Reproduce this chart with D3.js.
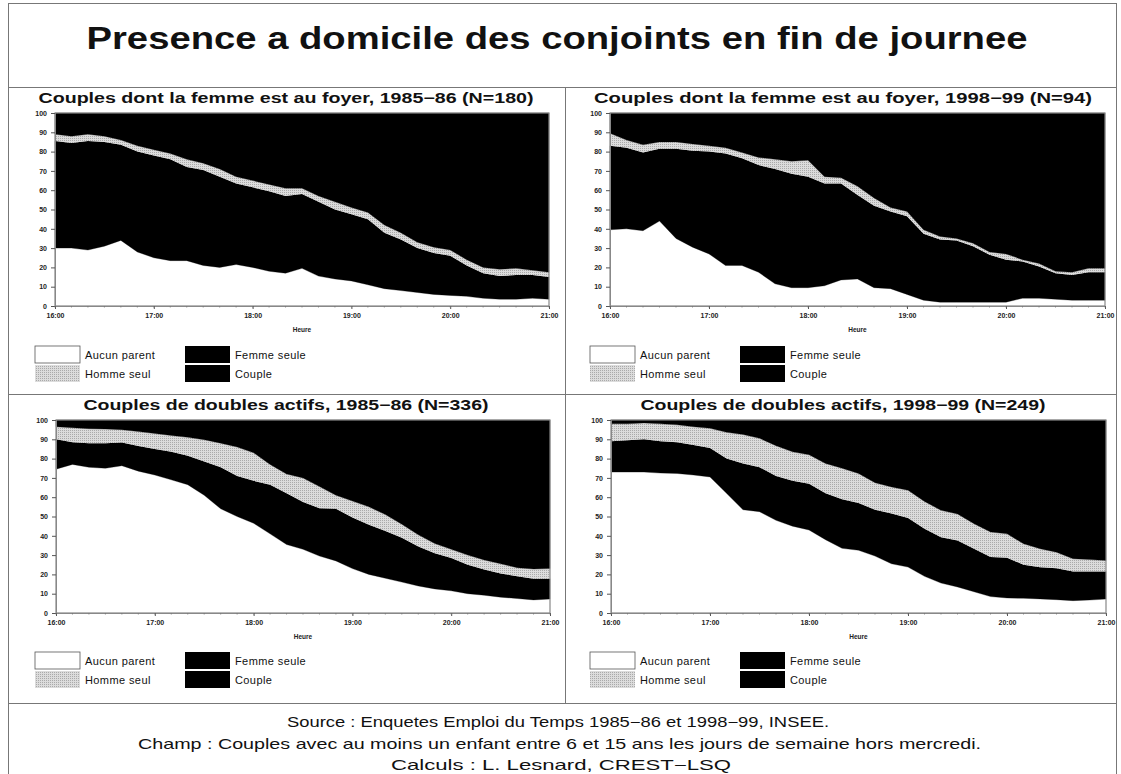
<!DOCTYPE html>
<html><head><meta charset="utf-8">
<script src="https://cdn.jsdelivr.net/npm/d3@7"></script>
<style>body{margin:0;background:#fff;} svg{display:block;font-family:"Liberation Sans",Arial,Helvetica,sans-serif;}</style>
</head><body><svg id="c" width="1121" height="774"></svg>
<script>
// ---------- data ----------
const times = ["16:00","16:10","16:20","16:30","16:40","16:50","17:00","17:10","17:20","17:30","17:40","17:50",
  "18:00","18:10","18:20","18:30","18:40","18:50","19:00","19:10","19:20","19:30","19:40","19:50",
  "20:00","20:10","20:20","20:30","20:40","20:50","21:00"];
const hourTicks = ["16:00","17:00","18:00","19:00","20:00","21:00"];
const yTicks = [0,10,20,30,40,50,60,70,80,90,100];
const seriesKeys = ["aucun","femme","homme","couple"];
const seriesNames = ["Aucun parent","Femme seule","Homme seul","Couple"];

const mainTitle = "Presence a domicile des conjoints en fin de journee";
const panelTitles = [
  "Couples dont la femme est au foyer, 1985\u221286 (N=180)",
  "Couples dont la femme est au foyer, 1998\u221299 (N=94)",
  "Couples de doubles actifs, 1985\u221286 (N=336)",
  "Couples de doubles actifs, 1998\u221299 (N=249)"
];
const footerLines = [
  "Source : Enquetes Emploi du Temps 1985\u221286 et 1998\u221299, INSEE.",
  "Champ : Couples avec au moins un enfant entre 6 et 15 ans les jours de semaine hors mercredi.",
  "Calculs : L. Lesnard, CREST\u2212LSQ"
];

// Couples dont la femme est au foyer, 1985-86 (%)
const foyer86_aucun  = [30,30,29,31,34,28,25,23.5,23.5,21,20,21.5,20,18,17,19.5,15.5,14,13,11,9,8,7,6,5.5,5,4,3.5,3.5,4,3.5];
const foyer86_femme  = [55.5,54.5,56.5,54,49.5,52,53,52.5,48.5,49.5,47,42,41.5,41.5,40,38.5,38.5,36,34.5,34,29,26.5,23,21.5,20.5,16,13,12,12.5,12,11.5];
const foyer86_homme  = [3.5,3.5,3.5,3,2.5,3,3,3,4,3.5,4,3.5,3.5,3.5,4,3,3,4,3.5,3.5,4,3.5,3,3,3,3,3,3.5,3.5,2.5,2.5];
const foyer86_couple = [11,12,11,12,14,17,19,21,24,26,29,33,35,37,39,39,43,46,49,51.5,58,62,67,69.5,71,76,80,81,80.5,81.5,82.5];

// Couples dont la femme est au foyer, 1998-99 (%)
const foyer99_aucun  = [39.5,40,39,44,35,30.5,27,21,21,17.5,11.5,9.5,9.5,10.5,13.5,14,9.5,9,6,3,2,2,2,2,2,4,4,3.5,3,3,3];
const foyer99_femme  = [43.5,42,40.5,37.5,46.5,50,53,58,55.5,55.5,59.5,59,57.5,53,50,43.5,42.5,40,40.5,34.5,32.5,32,29,24.5,22,19,16.5,13.5,13,14.5,14.5];
const foyer99_homme  = [6.5,4,4,3.5,3.5,3.5,3,3,3,4,5,6.5,8.5,3.5,3,4.5,4,2,2.5,2,1.5,1,1.5,1.5,3,1,1.5,1,1.5,2,2];
const foyer99_couple = [10.5,14,16.5,15,15,16,17,18,20.5,23,24,25,24.5,33,33.5,38,44,49,51,60.5,64,65,67.5,72,73,76,78,82,82.5,80.5,80.5];

// Couples de doubles actifs, 1985-86 (%)
const actifs86_aucun  = [74.5,77,75.5,75,76.3,73.5,71.5,69,66.5,61,54,50,46.5,41,35.5,33,29.5,27,23,20,18,16,14,12.5,11.5,10,9.2,8.2,7.5,6.8,7.2];
const actifs86_femme  = [15.5,11.5,12.5,13,12.1,13,13.5,14.5,15,17.5,21.5,21,22,25.5,26.5,24.5,24.8,27,26.5,25.7,24.5,23,20.5,18.5,17,15,13.3,12.3,11.5,11,10.6];
const actifs86_homme  = [6.5,7.5,7.5,7.3,6.6,7.5,8,8.5,9.5,11.3,12.5,15,14.5,10.5,10,12.5,11.2,7,8.5,9.3,8.5,7,6,5,4.5,5,5,5,4.5,5,5.2];
const actifs86_couple = [3.5,4,4.5,4.7,5,6,7,8,9,10.2,12,14,17,23,28,30,34.5,39,42,45,49,54,59.5,64,67,70,72.5,74.5,76.5,77.2,77];

// Couples de doubles actifs, 1998-99 (%)
const actifs99_aucun  = [73,73,73,72.5,72.3,71.5,70.5,62,53.5,52.5,48,45,43,38,33.5,32.5,29.5,25.5,23.8,19,15.5,13.5,11,8.5,7.8,7.6,7.3,6.9,6.4,6.7,7.2];
const actifs99_femme  = [16,16.5,17,16.5,16.2,15.5,15,18,24,23,23,23.5,24,24,25.5,24.5,24,26,25.4,24.7,23.8,24.1,22.3,20.5,20.8,17.4,16.4,16.3,15.1,14.8,14.3];
const actifs99_homme  = [9,8.5,8.5,9,9,9.5,10.2,13.6,15,15,15.7,15,15,15.5,16,15.3,14,13.8,14.4,14.1,13.9,13.7,13,13,12.4,10.9,9.6,8.3,6.6,6.2,5.7];
const actifs99_couple = [2,2,1.5,2,2.5,3.5,4.3,6.4,7.5,9.5,13.3,16.5,18,22.5,25,27.7,32.5,34.7,36.4,42.2,46.8,48.7,53.7,58,59,64.1,66.7,68.5,71.9,72.3,72.8];

const panelSeries = [
  [foyer86_aucun, foyer86_femme, foyer86_homme, foyer86_couple],
  [foyer99_aucun, foyer99_femme, foyer99_homme, foyer99_couple],
  [actifs86_aucun, actifs86_femme, actifs86_homme, actifs86_couple],
  [actifs99_aucun, actifs99_femme, actifs99_homme, actifs99_couple]
];

// ---------- layout ----------
const layout = [
  {x0:55, x1:549, y0:113, y1:306, tx:286, ty:103, tw:495, lx:35,  ly:346},
  {x0:610,x1:1105,y0:113, y1:306, tx:843, ty:103, tw:498, lx:590, ly:346},
  {x0:56, x1:550, y0:420, y1:613, tx:286, ty:410, tw:405, lx:35,  ly:652},
  {x0:611,x1:1106,y0:420, y1:613, tx:843, ty:410, tw:405, lx:590, ly:652}
];
const footerLayout = [{x:558, y:727, w:542},{x:559.5, y:748.5, w:843},{x:561, y:770, w:340}];

const svg = d3.select("#c");
const defs = svg.append("defs");
const pat = defs.append("pattern").attr("id","stip").attr("width",2).attr("height",2)
  .attr("patternUnits","userSpaceOnUse");
pat.append("rect").attr("width",2).attr("height",2).attr("fill","#dcdcdc");
pat.append("rect").attr("width",1).attr("height",1).attr("fill","#aaaaaa");

const fills = {aucun:"#ffffff", femme:"#000000", homme:"url(#stip)", couple:"#000000"};
const lineCol = "#777";

// frame lines
svg.append("rect").attr("x",8.5).attr("y",3.5).attr("width",1108).attr("height",780)
  .attr("fill","none").attr("stroke",lineCol).attr("stroke-width",1);
svg.append("line").attr("x1",8).attr("x2",1117).attr("y1",87.5).attr("y2",87.5).attr("stroke",lineCol);
svg.append("line").attr("x1",8).attr("x2",1117).attr("y1",394.5).attr("y2",394.5).attr("stroke",lineCol);
svg.append("line").attr("x1",8).attr("x2",1117).attr("y1",703.5).attr("y2",703.5).attr("stroke",lineCol);
svg.append("line").attr("x1",565.5).attr("x2",565.5).attr("y1",87).attr("y2",703).attr("stroke",lineCol);

// main title
svg.append("text").attr("x",557).attr("y",49).attr("text-anchor","middle")
  .attr("font-size",31).attr("font-weight","bold").attr("fill","#111")
  .attr("textLength",941).attr("lengthAdjust","spacingAndGlyphs").text(mainTitle);

const parseT = d3.timeParse("%H:%M");
const timeDates = times.map(parseT);

layout.forEach((L, pi) => {
  const g = svg.append("g");
  const x = d3.scaleTime().domain([parseT("16:00"), parseT("21:00")]).range([L.x0, L.x1]);
  const y = d3.scaleLinear().domain([0,100]).range([L.y1, L.y0]);

  const table = times.map((t,i) => {
    const row = {t: timeDates[i]};
    seriesKeys.forEach((k,j) => row[k] = panelSeries[pi][j][i]);
    return row;
  });
  const stack = d3.stack().keys(seriesKeys)(table);
  const area = d3.area().x(d => x(d.data.t)).y0(d => y(d[0])).y1(d => y(d[1])).curve(d3.curveLinear);

  g.selectAll("path.band").data(stack).join("path")
    .attr("class","band").attr("d",area)
    .attr("fill",d => fills[d.key]).attr("stroke",d => d.key==="homme" ? "none" : fills[d.key])
    .attr("stroke-width",0.3);

  // plot frame
  g.append("rect").attr("x",L.x0).attr("y",L.y0).attr("width",L.x1-L.x0).attr("height",L.y1-L.y0)
    .attr("fill","none").attr("stroke","#888").attr("stroke-width",1.2);

  // y axis
  const ya = g.append("g").attr("transform",`translate(${L.x0},0)`)
    .call(d3.axisLeft(y).tickValues(yTicks).tickSize(4).tickSizeOuter(0));
  ya.select(".domain").attr("stroke","#888");
  ya.selectAll("line").attr("stroke","#555");
  ya.selectAll("text").attr("font-size",7).attr("font-weight","bold").attr("fill","#222")
    .attr("font-family","Liberation Sans, Arial, sans-serif").attr("dx",-1);

  // x axis
  const xa = g.append("g").attr("transform",`translate(0,${L.y1})`)
    .call(d3.axisBottom(x).tickValues(hourTicks.map(parseT)).tickFormat(d3.timeFormat("%H:%M")).tickSize(3).tickSizeOuter(0));
  xa.select(".domain").attr("stroke","#888");
  xa.selectAll("line").attr("stroke","#555");
  xa.selectAll("text").attr("font-size",7).attr("font-weight","bold").attr("fill","#222")
    .attr("font-family","Liberation Sans, Arial, sans-serif").attr("dy","0.9em");
  // minor ticks every 10 minutes
  g.append("g").selectAll("line").data(timeDates).join("line")
    .attr("x1",d=>x(d)).attr("x2",d=>x(d)).attr("y1",L.y1).attr("y2",L.y1+1.5)
    .attr("stroke","#777").attr("stroke-width",0.8);

  g.append("text").attr("x",(L.x0+L.x1)/2).attr("y",L.y1+26).attr("text-anchor","middle")
    .attr("font-size",6.5).attr("font-weight","bold").attr("fill","#222").text("Heure");

  // panel title
  g.append("text").attr("x",L.tx).attr("y",L.ty).attr("text-anchor","middle")
    .attr("font-size",14).attr("font-weight","bold").attr("fill","#111")
    .attr("textLength",L.tw).attr("lengthAdjust","spacingAndGlyphs").text(panelTitles[pi]);

  // legend: Aucun | Femme (row 1), Homme | Couple (row 2)
  const leg = g.append("g");
  const offs = [[0,0],[150,0],[0,19],[150,19]];
  seriesKeys.forEach((k,si) => {
    const [dx,dy] = offs[si];
    leg.append("rect").attr("x",L.lx+dx).attr("y",L.ly+dy).attr("width",45).attr("height",17)
      .attr("fill",fills[k])
      .attr("stroke", k==="aucun" ? "#555" : "none").attr("stroke-width",0.8);
    leg.append("text").attr("x",L.lx+dx+50).attr("y",L.ly+dy+12.5)
      .attr("font-size",11).attr("fill","#111").attr("letter-spacing",0.4)
      .text(seriesNames[si]);
  });
});

// footer
footerLines.forEach((t,i) => {
  const F = footerLayout[i];
  svg.append("text").attr("x",F.x).attr("y",F.y).attr("text-anchor","middle")
    .attr("font-size",14.5).attr("fill","#111")
    .attr("textLength",F.w).attr("lengthAdjust","spacingAndGlyphs").text(t);
});
</script></body></html>
